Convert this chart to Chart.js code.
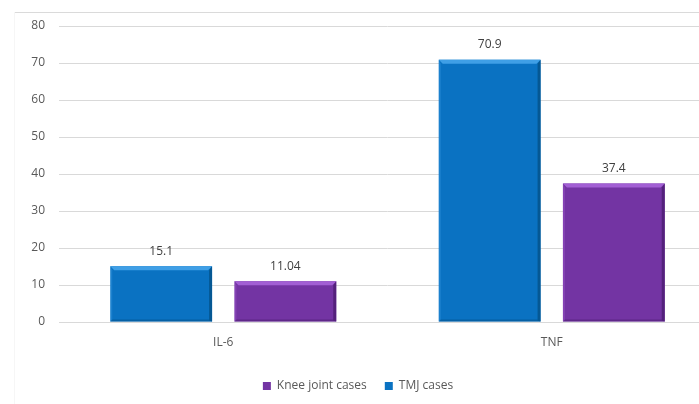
<!DOCTYPE html>
<html>
<head>
<meta charset="utf-8">
<script src="https://cdn.jsdelivr.net/npm/chart.js@4/dist/chart.umd.min.js"></script>
<style>
  html, body { margin: 0; padding: 0; background: #fff; overflow: hidden; }
  #wrap { width: 716px; height: 404px; }
</style>
</head>
<body>
<div id="wrap"><canvas id="cytokine-chart" width="716" height="404"></canvas></div>
<script>
// categories and series
var categories = ['IL-6', 'TNF'];
var tmjValues = [15.1, 70.9];
var kneeValues = [11.04, 37.4];
var valueLabels = [['15.1', '70.9'], ['11.04', '37.4']];
var yTicks = [0, 10, 20, 30, 40, 50, 60, 70, 80];

var barColors = ['#0a72c2', '#7334a3'];
var bevelLight = ['#3f9fe6', '#a25fd4'];
var bevelDark = ['#04558f', '#511f78'];

// light frame like the office chart border
var framePlugin = {
	id: 'frame',
	beforeDraw: function (chart) {
		var ctx = chart.ctx;
		ctx.save();
		ctx.strokeStyle = '#dadada';
		ctx.lineWidth = 1;
		ctx.beginPath();
		ctx.moveTo(14, 12.5);
		ctx.lineTo(chart.width, 12.5);
		ctx.stroke();
		ctx.strokeStyle = '#f6f6f6';
		ctx.beginPath();
		ctx.moveTo(14.5, 12);
		ctx.lineTo(14.5, chart.height);
		ctx.stroke();
		ctx.restore();
	}
};

// bevel on each bar + value labels
var bevelPlugin = {
	id: 'bevel',
	afterDatasetsDraw: function (chart) {
		var ctx = chart.ctx;
		chart.data.datasets.forEach(function (ds, di) {
			var meta = chart.getDatasetMeta(di);
			meta.data.forEach(function (bar, i) {
				var l = bar.x - bar.width / 2, r = bar.x + bar.width / 2;
				var t = bar.y, b = bar.base, e = 4;
				ctx.save();
				// top
				ctx.fillStyle = bevelLight[di];
				ctx.beginPath();
				ctx.moveTo(l, t); ctx.lineTo(r, t); ctx.lineTo(r - e, t + e); ctx.lineTo(l + e, t + e);
				ctx.closePath(); ctx.fill();
				// left, slightly light
				ctx.globalAlpha = 0.35;
				ctx.beginPath();
				ctx.moveTo(l, t); ctx.lineTo(l + 2, t + e); ctx.lineTo(l + 2, b - 1); ctx.lineTo(l, b);
				ctx.closePath(); ctx.fill();
				// right
				ctx.globalAlpha = 0.9;
				ctx.fillStyle = bevelDark[di];
				ctx.beginPath();
				ctx.moveTo(r, t); ctx.lineTo(r, b); ctx.lineTo(r - 3, b - 1); ctx.lineTo(r - 3, t + e);
				ctx.closePath(); ctx.fill();
				// bottom
				ctx.globalAlpha = 0.6;
				ctx.beginPath();
				ctx.moveTo(l, b); ctx.lineTo(l + 2, b - 2); ctx.lineTo(r - 3, b - 2); ctx.lineTo(r, b);
				ctx.closePath(); ctx.fill();
				ctx.restore();

				ctx.save();
				ctx.fillStyle = '#404040';
				ctx.font = '12px "Open Sans"';
				ctx.textAlign = 'center';
				ctx.textBaseline = 'middle';
				ctx.fillText(valueLabels[di][i], bar.x, t - 15);
				ctx.restore();
			});
		});
	}
};

window.addEventListener('load', function () {
	var ctx = document.getElementById('cytokine-chart').getContext('2d');
	new Chart(ctx, {
		type: 'bar',
		data: {
			labels: categories,
			datasets: [{
				label: 'TMJ cases',
				data: tmjValues,
				backgroundColor: barColors[0],
				categoryPercentage: 0.756,
				barPercentage: 0.82
			}, {
				label: 'Knee joint cases',
				data: kneeValues,
				backgroundColor: barColors[1],
				categoryPercentage: 0.756,
				barPercentage: 0.82
			}]
		},
		options: {
			responsive: false,
			animation: false,
			layout: { padding: { top: 26, left: 0, right: 0, bottom: 2 } },
			scales: {
				x: {
					grid: { display: false, drawTicks: false },
					border: { display: true, color: '#d9d9d9' },
					ticks: { color: '#595959', padding: 13, font: { family: 'Open Sans', size: 12 } },
					afterFit: function (scale) { scale.height = 40; }
				},
				y: {
					min: 0,
					max: 80,
					afterBuildTicks: function (scale) {
						scale.ticks = yTicks.map(function (v) { return { value: v }; });
					},
					grid: { color: '#d9d9d9', drawTicks: false },
					border: { display: false },
					ticks: { color: '#595959', padding: 14, font: { family: 'Open Sans', size: 12 } },
					afterFit: function (scale) { scale.width = 59; }
				}
			},
			plugins: {
				legend: {
					position: 'bottom',
					reverse: true,
					labels: {
						boxWidth: 8,
						boxHeight: 8,
						padding: 18,
						color: '#595959',
						font: { family: 'Open Sans', size: 12 }
					}
				},
				tooltip: { enabled: false }
			}
		},
		plugins: [framePlugin, bevelPlugin]
	});
});
</script>
</body>
</html>
